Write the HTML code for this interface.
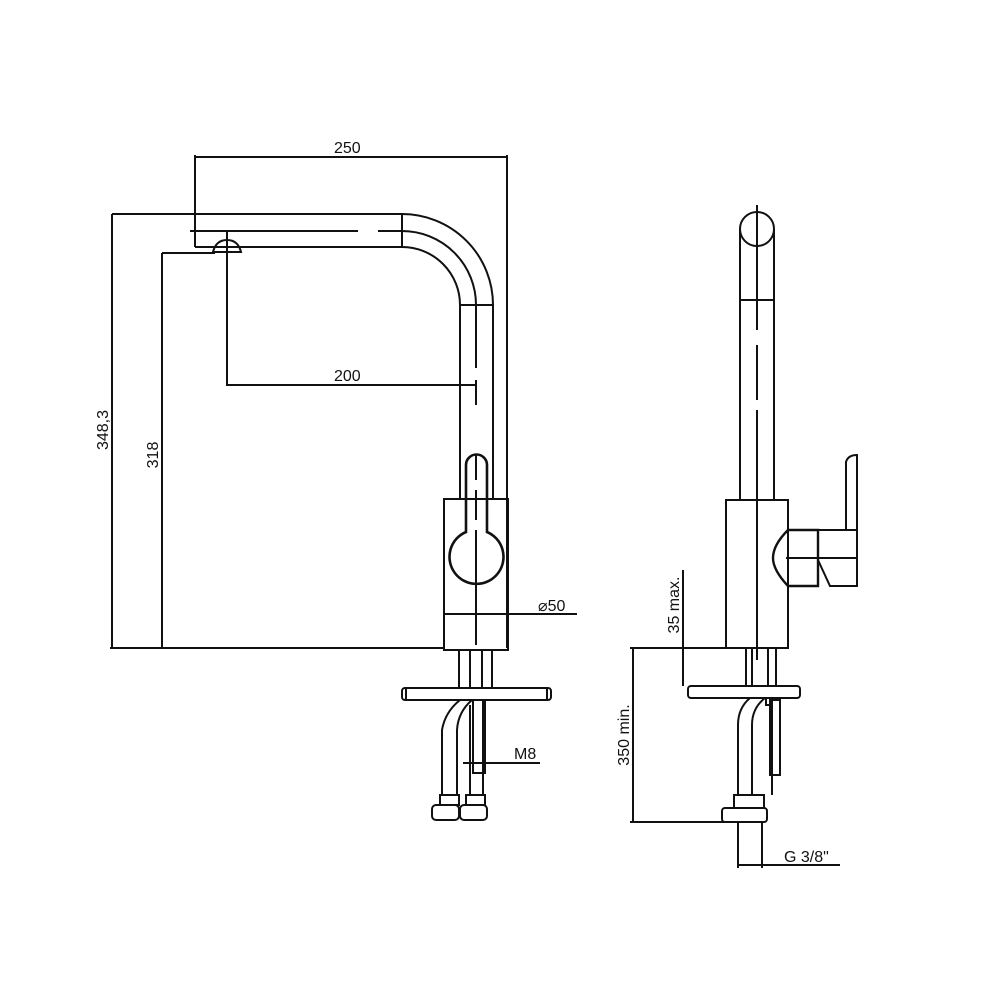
<!DOCTYPE html>
<html><head><meta charset="utf-8"><style>
html,body{margin:0;padding:0;background:#fff}
svg{display:block}
text{font-family:"Liberation Sans",sans-serif;font-size:16px;fill:#111}
</style></head><body>
<svg width="1000" height="1000" viewBox="0 0 1000 1000" xmlns="http://www.w3.org/2000/svg">
<g fill="none" stroke="#111" stroke-width="2">
<line x1="195" y1="157" x2="507" y2="157"/>
<line x1="195" y1="155" x2="195" y2="247"/>
<line x1="507" y1="155" x2="507" y2="648"/>
<line x1="112" y1="214" x2="402" y2="214"/>
<line x1="112" y1="214" x2="112" y2="648"/>
<line x1="162" y1="253" x2="215" y2="253"/>
<line x1="162" y1="253" x2="162" y2="648"/>
<line x1="110" y1="648" x2="444" y2="648"/>
<line x1="195" y1="247" x2="402" y2="247"/>
<path d="M402 214 A91 91 0 0 1 493 305 L493 500"/>
<path d="M402 247 A58 58 0 0 1 460 305 L460 500"/>
<path d="M402 231 A74 74 0 0 1 476 305"/>
<line x1="190" y1="231" x2="358" y2="231"/>
<line x1="378" y1="231" x2="402" y2="231"/>
<line x1="402" y1="214" x2="402" y2="247"/>
<line x1="460" y1="305" x2="493" y2="305"/>
<line x1="476" y1="305" x2="476" y2="368"/>
<line x1="476" y1="380" x2="476" y2="405"/>
<path d="M213 252 Q216 240 227 240 Q238 240 241 252 Z"/>
<line x1="227" y1="230" x2="227" y2="386"/>
<line x1="227" y1="385" x2="476" y2="385"/>
<rect x="444" y="499" width="64" height="151"/>
<path d="M466 532 L466 465 A10.5 10.5 0 0 1 487 465 L487 532 A27 27 0 1 1 466 532 Z" stroke-width="2.6"/>
<line x1="476" y1="455" x2="476" y2="480"/>
<line x1="476" y1="490" x2="476" y2="520"/>
<line x1="476" y1="530" x2="476" y2="645"/>
<line x1="444" y1="614" x2="577" y2="614"/>
<line x1="459" y1="650" x2="459" y2="688"/>
<line x1="470" y1="650" x2="470" y2="688"/>
<line x1="482" y1="650" x2="482" y2="688"/>
<line x1="492" y1="650" x2="492" y2="688"/>
<rect x="402" y="688" width="149" height="12" rx="3"/>
<line x1="406" y1="688" x2="406" y2="700"/>
<line x1="547" y1="688" x2="547" y2="700"/>
<path d="M460 700 Q445 712 442 730 L442 795"/>
<path d="M472 700 Q458 712 457 730 L457 795"/>
<path d="M470 705 L470 795 M483 700 L483 795"/>
<path d="M473 700 L473 773 L485 773 L485 700"/>
<line x1="463" y1="763" x2="540" y2="763"/>
<rect x="440" y="795" width="19" height="10"/>
<rect x="466" y="795" width="19" height="10"/>
<rect x="432" y="805" width="27" height="15" rx="4"/>
<rect x="460" y="805" width="27" height="15" rx="4"/>
<line x1="757" y1="205" x2="757" y2="330"/>
<line x1="757" y1="345" x2="757" y2="400"/>
<line x1="757" y1="410" x2="757" y2="660"/>
<circle cx="757" cy="229" r="17"/>
<line x1="740" y1="229" x2="740" y2="500"/>
<line x1="774" y1="229" x2="774" y2="500"/>
<line x1="740" y1="300" x2="774" y2="300"/>
<rect x="726" y="500" width="62" height="148"/>
<path d="M788 530 L818 530 L818 586 L788 586 Q773 570 773 558 Q773 545 788 530" stroke-width="2.4"/>
<path d="M818 530 L857 530 L857 586 L830 586 L818 560"/>
<path d="M846 530 L846 462 Q848 455 857 455 L857 530"/>
<line x1="786" y1="558" x2="858" y2="558"/>
<line x1="746" y1="648" x2="746" y2="686"/>
<line x1="752" y1="648" x2="752" y2="686"/>
<line x1="768" y1="648" x2="768" y2="686"/>
<line x1="776" y1="648" x2="776" y2="686"/>
<rect x="688" y="686" width="112" height="12" rx="3"/>
<path d="M750 698 Q738 708 738 725 L738 795 M765 698 Q752 708 752 725 L752 795 M772 698 L772 795"/>
<path d="M766 698 L766 705 L770 705"/>
<rect x="770" y="700" width="10" height="75"/>
<rect x="734" y="795" width="30" height="13"/>
<rect x="722" y="808" width="45" height="14" rx="3"/>
<line x1="683" y1="570" x2="683" y2="686"/>
<line x1="630" y1="648" x2="726" y2="648"/>
<line x1="630" y1="822" x2="730" y2="822"/>
<line x1="633" y1="648" x2="633" y2="822"/>
<line x1="738" y1="822" x2="738" y2="868"/>
<line x1="762" y1="822" x2="762" y2="868"/>
<line x1="738" y1="865" x2="840" y2="865"/>
</g>
<text x="334" y="153">250</text>
<text x="334" y="381">200</text>
<text x="538" y="611">⌀50</text>
<text x="514" y="759">M8</text>
<text x="784" y="862">G 3/8"</text>
<text transform="translate(108,430) rotate(-90)" text-anchor="middle">348,3</text>
<text transform="translate(158,455) rotate(-90)" text-anchor="middle">318</text>
<text transform="translate(679,605) rotate(-90)" text-anchor="middle">35 max.</text>
<text transform="translate(629,735) rotate(-90)" text-anchor="middle">350 min.</text>
</svg>
</body></html>
